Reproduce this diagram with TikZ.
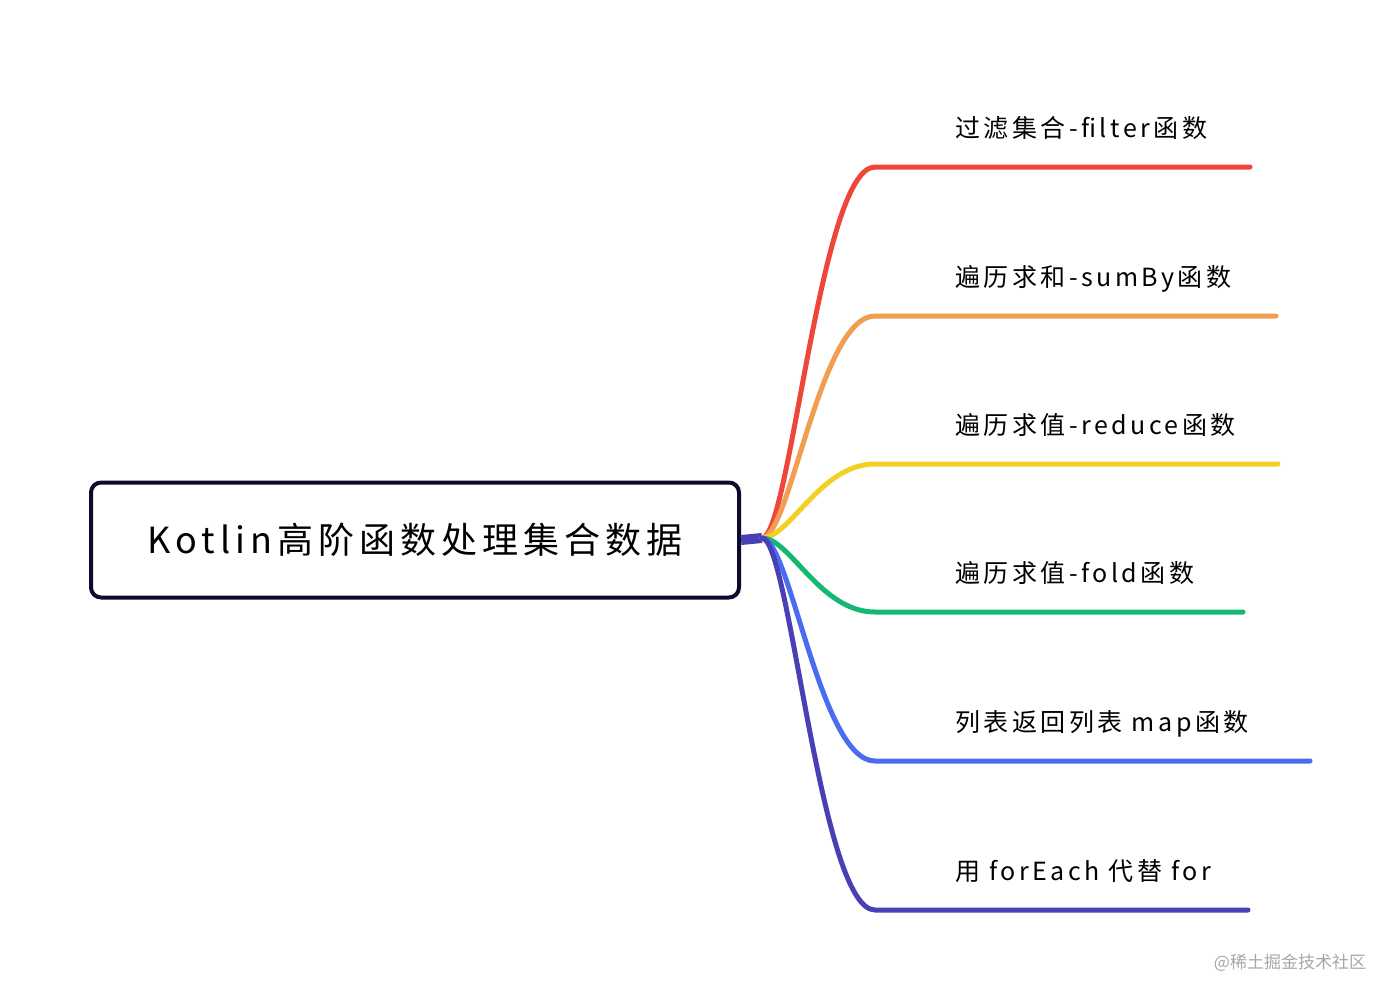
\documentclass[tikz,border=0pt]{standalone}
\usepackage{fontspec}
\setmainfont{Noto Sans CJK SC}
\newfontfamily\spaced[LetterSpace=14]{Noto Sans CJK SC}
\begin{document}
\begin{tikzpicture}[x=1pt,y=-1pt,
  br/.style={line width=5pt,line cap=round},
  lab/.style={anchor=base west,font=\spaced\fontsize{25}{25}\selectfont,inner sep=0pt}]
\useasboundingbox (0,0) rectangle (1398,1001);
\definecolor{c1}{HTML}{F0453A}\definecolor{c2}{HTML}{F09E4F}
\definecolor{c3}{HTML}{F2D024}\definecolor{c4}{HTML}{14B873}
\definecolor{c5}{HTML}{4A6CF0}\definecolor{c6}{HTML}{4B3FB5}
\definecolor{nv}{HTML}{0B0B2E}
\node[draw=nv,line width=4pt,rounded corners=10pt,minimum width=648pt,minimum height=115pt,font=\spaced\fontsize{36}{36}\selectfont] (root) at (415,540) {Kotlin高阶函数处理集合数据};
\coordinate (hub) at (762,538);
\draw[c6,line width=10pt] (root.east) -- (hub);
\foreach \i/\y/\e/\t in {1/167/1250/过滤集合-filter函数,2/316/1276/遍历求和-sumBy函数,3/464/1278/遍历求值-reduce函数,4/612/1243/遍历求值-fold函数,5/761/1310/列表返回列表 map函数,6/910/1248/用 forEach 代替 for}{
  \coordinate (s\i) at (875,\y);
  \coordinate (e\i) at (\e,\y);
  \draw[br,c\i] (hub) .. controls (790,538) and (820,\y) .. (s\i) -- (e\i);
  \node[lab] (l\i) at (955,\y-30) {\t};
}
\node[text=gray!70,font=\fontsize{17}{17}\selectfont] (wm) at (1290,963) {@稀土掘金技术社区};
\end{tikzpicture}
\end{document}
